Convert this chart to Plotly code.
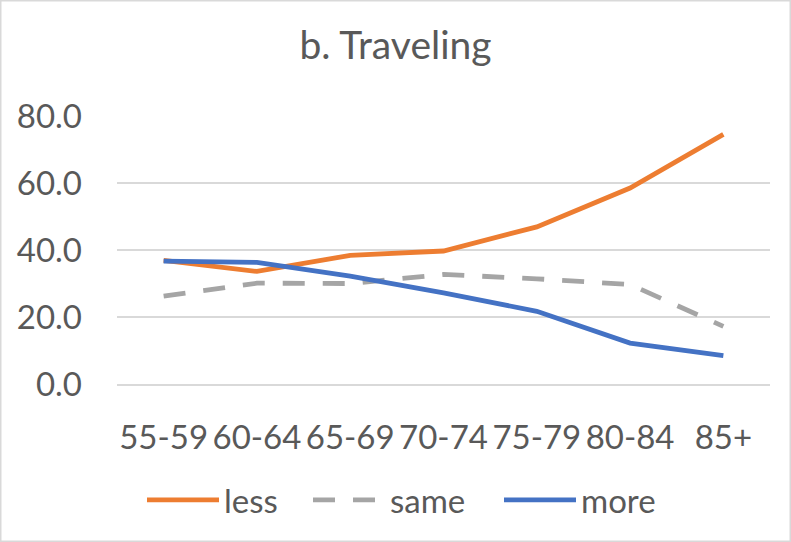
import plotly.graph_objects as go

categories = ["55-59", "60-64", "65-69", "70-74", "75-79", "80-84", "85+"]
less = [36.9, 33.6, 38.4, 39.7, 46.9, 58.5, 74.5]
same = [26.2, 30.1, 30.0, 32.7, 31.4, 29.7, 17.2]
more = [36.7, 36.3, 32.2, 27.2, 21.7, 12.2, 8.5]
y_ticks = [0, 20, 40, 60, 80]

FONT = "Lato, 'Open Sans', sans-serif"
TXT = "#595959"

fig = go.Figure()
fig.add_trace(go.Scatter(x=categories, y=less, name="less", mode="lines", legend="legend",
                         line=dict(color="#ED7D31", width=4.8)))
fig.add_trace(go.Scatter(x=categories, y=same, name="same", mode="lines", legend="legend2",
                         line=dict(color="#A5A5A5", width=4.8, dash="22px,18px")))
fig.add_trace(go.Scatter(x=categories, y=more, name="more", mode="lines", legend="legend3",
                         line=dict(color="#4472C4", width=4.8)))

L, R, T, B = 117, 21, 116, 158
PW = 791 - L - R
PH = 542 - T - B


def px_x(p):
    return (p - L) / PW


def leg(xp):
    return dict(orientation="h", x=px_x(xp), xanchor="left", y=-(500 - (542 - B)) / PH,
                yanchor="middle", font=dict(size=33, color=TXT, family=FONT),
                itemwidth=72, bgcolor="rgba(0,0,0,0)")


fig.update_layout(
    width=791, height=542,
    margin=dict(l=L, r=R, t=T, b=B),
    paper_bgcolor="white", plot_bgcolor="white",
    font=dict(family=FONT, color=TXT, size=33),
    title=dict(text="b. Traveling", x=0.5, xanchor="center", y=1 - 45 / 542, yanchor="middle",
               font=dict(size=39, color=TXT, family=FONT)),
    showlegend=True,
    legend=leg(142),
    legend2=leg(308),
    legend3=leg(499),
    xaxis=dict(type="category", range=[-0.5, 6.5], showgrid=False, showline=True,
               linecolor="#D9D9D9", linewidth=1.5, ticks="", ticklabelstandoff=24,
               tickfont=dict(size=33, color=TXT)),
    yaxis=dict(range=[0, 80], tickvals=y_ticks, tickformat=".1f", showgrid=True,
               gridcolor="#D9D9D9", gridwidth=1.5, zeroline=False, showline=False,
               ticks="", ticklabelstandoff=34, tickfont=dict(size=33, color=TXT)),
    shapes=[dict(type="rect", xref="paper", yref="paper",
                 x0=-(L - 0.75) / PW, x1=1 + (R - 0.75) / PW,
                 y0=-(B - 0.75) / PH, y1=1 + (T - 0.75) / PH,
                 line=dict(color="#D9D9D9", width=1.5))],
)

fig.write_html("out.html", config={"displayModeBar": False},
               post_script="document.body.style.margin='0';")
